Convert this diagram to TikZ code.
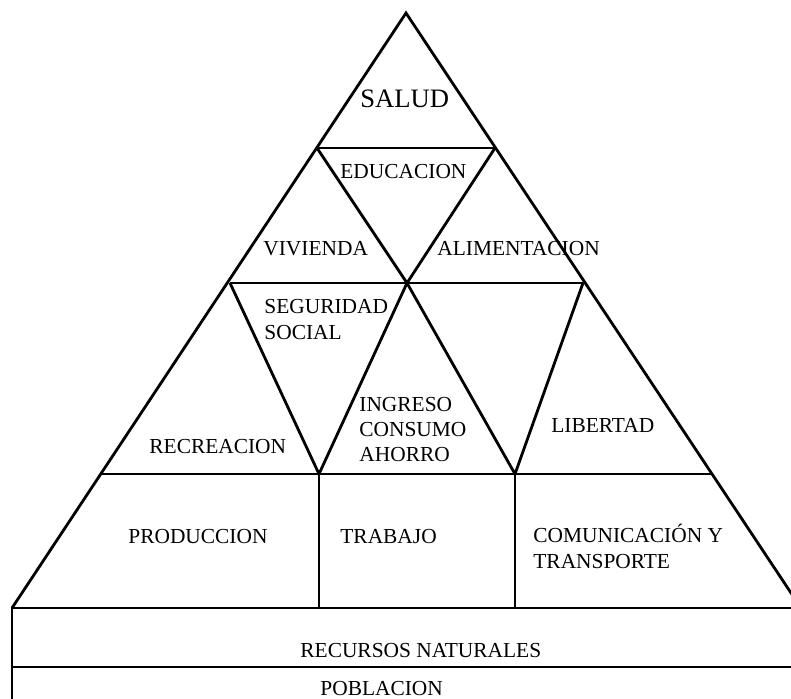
\documentclass[tikz,border=0pt]{standalone}
\usepackage{fontspec}
\setmainfont{Liberation Serif}
\tikzset{
  edge/.style={black, line width=1.4pt, line join=miter},
  lbl/.style={anchor=base west, inner sep=0pt, font=\fontsize{10.7}{12.8}\selectfont},
  biglbl/.style={anchor=base west, inner sep=0pt, font=\fontsize{13.3}{16}\selectfont}
}
\begin{document}
\begin{tikzpicture}[x=0.5pt, y=-0.5pt]
		\useasboundingbox (0,0) rectangle (791,698);
		\clip (0,0) rectangle (791,698);
		\coordinate (top) at (406,13);
		\coordinate (l1) at (317,148);
		\coordinate (r1) at (495,148);
		\coordinate (l2) at (230,283);
		\coordinate (m2) at (407,283);
		\coordinate (r2) at (583,283);
		\coordinate (l3) at (102,474);
		\coordinate (a3) at (319,474);
		\coordinate (b3) at (515,474);
		\coordinate (r3) at (712,474);
		\coordinate (bl) at (12,608);
		\coordinate (br) at (801,608);
		\coordinate (ml) at (12,667);
		\coordinate (mr) at (801,667);
		\coordinate (low) at (12,720);
		\coordinate (a4) at (319,608);
		\coordinate (b4) at (515,608);
		\draw[edge] (bl) -- (top) -- (br);
		\draw[edge] (l1) -- (r1);
		\draw[edge] (l2) -- (r2);
		\draw[edge] (l3) -- (r3);
		\draw[edge] (r1) -- (m2) -- (l1);
		\draw[edge] (l2) -- (a3) -- (m2) -- (b3) -- (r2);
		\draw[edge] (a3) -- (a4);
		\draw[edge] (b3) -- (b4);
		\draw[edge] (low) -- (bl) -- (br);
		\draw[edge] (ml) -- (mr);
		\node[biglbl] (salud) at (360,107) {SALUD};
		\node[lbl] (educ) at (340,178) {EDUCACION};
		\node[lbl] (viv) at (263,255) {VIVIENDA};
		\node[lbl] (alim) at (437,255) {ALIMENTACION};
		\node[lbl] (segA) at (264,313) {SEGURIDAD};
		\node[lbl] (segB) at (264,339) {SOCIAL};
		\node[lbl] (ingA) at (359,411) {INGRESO};
		\node[lbl] (ingB) at (359,436) {CONSUMO};
		\node[lbl] (ingC) at (359,461) {AHORRO};
		\node[lbl] (recr) at (149,453) {RECREACION};
		\node[lbl] (lib) at (551,432) {LIBERTAD};
		\node[lbl] (prod) at (128,543) {PRODUCCION};
		\node[lbl] (trab) at (340,543) {TRABAJO};
		\node[lbl] (comA) at (533,542) {COMUNICACIÓN Y};
		\node[lbl] (comB) at (533,568) {TRANSPORTE};
		\node[lbl] (recu) at (300,657) {RECURSOS NATURALES};
		\node[lbl] (pobl) at (320,695) {POBLACION};
		\end{tikzpicture}
\end{document}
